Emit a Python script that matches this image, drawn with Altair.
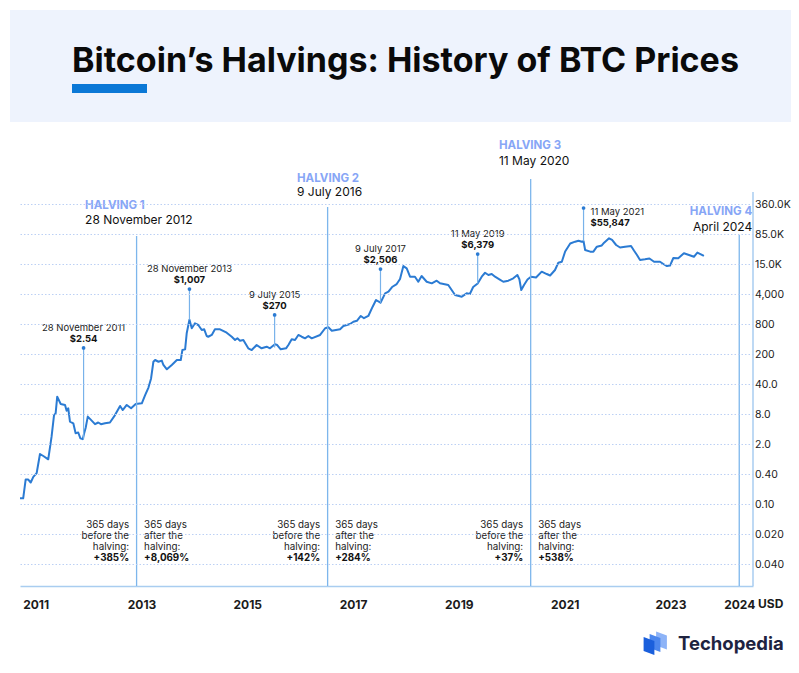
import altair as alt
import pandas as pd

# ---------------- data ----------------
dates = [
    "2010-09-15", "2010-10-07", "2010-10-24", "2010-11-11", "2010-11-28", "2010-12-16",
    "2011-01-08", "2011-01-31", "2011-02-23", "2011-03-29", "2011-04-21", "2011-05-08",
    "2011-05-19", "2011-05-30", "2011-06-23", "2011-07-23", "2011-08-03", "2011-08-14",
    "2011-08-26", "2011-09-18", "2011-10-04", "2011-10-22", "2011-11-06", "2011-11-22",
    "2011-12-02", "2011-12-13", "2011-12-27", "2012-01-18", "2012-02-15", "2012-03-08",
    "2012-03-27", "2012-04-24", "2012-05-28", "2012-07-02", "2012-08-06", "2012-08-24",
    "2012-09-21", "2012-10-21", "2012-11-22", "2013-01-03", "2013-01-26", "2013-02-18",
    "2013-03-08", "2013-03-24", "2013-04-05", "2013-04-28", "2013-05-21", "2013-06-01",
    "2013-06-25", "2013-07-29", "2013-09-02", "2013-09-29", "2013-10-10", "2013-10-29",
    "2013-11-09", "2013-11-28", "2013-12-14", "2014-01-05", "2014-01-28", "2014-02-21",
    "2014-03-10", "2014-03-27", "2014-04-07", "2014-05-01", "2014-05-23", "2014-06-27",
    "2014-08-12", "2014-09-16", "2014-10-09", "2014-10-25", "2014-11-12", "2014-12-05",
    "2015-01-08", "2015-02-01", "2015-03-07", "2015-04-10", "2015-05-15", "2015-06-07",
    "2015-07-11", "2015-07-27", "2015-08-20", "2015-09-26", "2015-10-12", "2015-11-04",
    "2015-11-27", "2015-12-20", "2016-01-12", "2016-02-04", "2016-02-27", "2016-03-21",
    "2016-05-18", "2016-06-22", "2016-07-14", "2016-08-07", "2016-10-03", "2016-10-26",
    "2016-12-11", "2017-01-03", "2017-01-27", "2017-02-23", "2017-03-17", "2017-04-16",
    "2017-05-16", "2017-06-08", "2017-07-09", "2017-08-10", "2017-09-02", "2017-09-27",
    "2017-10-29", "2017-11-21", "2017-12-14", "2018-01-06", "2018-01-29", "2018-03-04",
    "2018-03-27", "2018-04-19", "2018-05-24", "2018-06-28", "2018-08-01", "2018-08-24",
    "2018-10-20", "2018-12-06", "2019-01-21", "2019-02-24", "2019-03-18", "2019-04-10",
    "2019-05-11", "2019-06-08", "2019-07-01", "2019-07-24", "2019-08-16", "2019-09-08",
    "2019-10-08", "2019-11-04", "2019-12-09", "2020-01-12", "2020-02-09", "2020-02-23",
    "2020-03-07", "2020-03-26", "2020-04-19", "2020-05-13", "2020-06-17", "2020-07-26",
    "2020-08-30", "2020-09-22", "2020-10-26", "2020-11-18", "2020-12-12", "2021-01-04",
    "2021-02-08", "2021-03-14", "2021-04-06", "2021-04-29", "2021-05-11", "2021-05-22",
    "2021-06-26", "2021-07-18", "2021-08-11", "2021-09-14", "2021-09-30", "2021-11-03",
    "2021-11-24", "2021-12-22", "2022-01-18", "2022-02-22", "2022-04-04", "2022-04-24",
    "2022-05-15", "2022-06-05", "2022-07-09", "2022-08-09", "2022-09-10", "2022-10-21",
    "2022-11-13", "2022-12-08", "2022-12-29", "2023-01-21", "2023-02-24", "2023-04-04",
    "2023-05-09", "2023-06-12", "2023-07-06", "2023-07-27", "2023-08-20",
]
prices = [
    0.13, 0.13, 0.31, 0.31, 0.27, 0.35,
    0.42, 1.17, 1.05, 0.88, 2.8, 7.6,
    8.3, 20.3, 13.7, 13.0, 9.5, 10.9,
    5.6, 5.2, 3.3, 3.4, 2.6, 2.5,
    3.3, 4.3, 7.1, 6.1, 5.0, 5.4,
    5.0, 5.2, 5.4, 7.6, 12.3, 9.9,
    13.0, 10.9, 13.7, 14.2, 22, 33,
    54, 132, 145, 132, 140, 111,
    88, 111, 145, 145, 240, 248,
    520, 1007, 657, 830, 764, 606,
    626, 459, 444, 482, 626, 626,
    535, 444, 382, 413, 370, 382,
    260, 240, 303, 260, 280, 260,
    313, 303, 248, 260, 303, 394,
    382, 482, 444, 413, 459, 413,
    482, 657, 686, 588, 626, 728,
    800, 904, 950, 1230, 1090, 1230,
    2025, 2900, 2506, 4120, 4430, 5440,
    6200, 7740, 13700, 12400, 8560, 8560,
    6870, 8840, 6870, 6400, 7200, 6400,
    5950, 3790, 3460, 4120, 4000, 5440,
    6379, 8560, 10200, 9240, 9640, 8560,
    7650, 6870, 7200, 7980, 9240, 7650,
    4770, 5950, 7570, 8560, 8280, 10700,
    9640, 9050, 11500, 16200, 17100, 30900,
    49000, 54500, 57700, 54500, 55847, 33700,
    30600, 30600, 40800, 43800, 51400, 66300,
    60100, 45000, 39000, 40800, 42500, 32700,
    25200, 18900, 19700, 20600, 17100, 17100,
    15000, 13700, 14000, 21200, 21000, 27900,
    25200, 22800, 29100, 26700, 23900,
]

tick_values = [360000, 85000, 15000, 4000, 800, 200, 40, 8, 2, 0.4, 0.1, 0.02, 0.004]
tick_labels = ["360.0K", "85.0K", "15.0K", "4,000", "800", "200", "40.0", "8.0",
               "2.0", "0.40", "0.10", "0.020", "0.040"]

year_tick_dates = [(2011, 1, 1), (2013, 1, 1), (2015, 1, 1), (2017, 1, 1),
                   (2019, 1, 1), (2021, 1, 1), (2023, 1, 1), (2024, 4, 20)]

halving_names = ["HALVING 1", "HALVING 2", "HALVING 3", "HALVING 4"]
halving_dates = ["2012-11-28", "2016-07-09", "2020-05-11", "2024-04-20"]
halving_date_labels = ["28 November 2012", "9 July 2016", "11 May 2020", "April 2024"]

before_pct = ["+385%", "+142%", "+37%"]
after_pct = ["+8,069%", "+284%", "+538%"]

ann_dates = ["2011-11-28", "2013-11-28", "2015-07-09", "2017-07-09", "2019-05-11", "2021-05-11"]
ann_prices = [2.54, 1007, 270, 2506, 6379, 55847]
ann_top = [264, 4980, 1297, 12000, 26700, 297000]
ann_date_labels = ["28 November 2011", "28 November 2013", "9 July 2015",
                   "9 July 2017", "11 May 2019", "11 May 2021"]
ann_value_labels = ["$2.54", "$1,007", "$270", "$2,506", "$6,379", "$55,847"]

# ---------------- layout constants ----------------
W, H = 733, 394
FONT = "Inter"
BLUE = "#2b7bd3"
HALV_LINE = "#7db6ec"
HALV_TXT = "#87a6f6"

price_df = pd.DataFrame({"date": dates, "price": prices})
one = pd.DataFrame({"k": [0]})

y_dom = sorted(tick_values)
y_rng = [12 + 30 * (len(tick_values) - 1 - i) for i in range(len(tick_values))]
y_scale = alt.Scale(type="log", domain=y_dom, range=y_rng, nice=False)
x_scale = alt.Scale(domain=[alt.DateTime(year=2010, month=9, date=15, utc=True),
                            alt.DateTime(year=2024, month=7, date=24, utc=True)])

label_expr = " : ".join(f"datum.value == {v} ? '{l}'" for v, l in zip(tick_values, tick_labels)) + " : ''"

x_axis = alt.Axis(
    values=[alt.DateTime(year=y, month=m, date=d, utc=True) for y, m, d in year_tick_dates],
    format="%Y", title=None, grid=False, ticks=False, domain=True,
    domainColor="#a9cdf0", domainWidth=1.5, labelFont=FONT, labelFontSize=12,
    labelFontWeight="bold", labelColor="#1b1b1b", labelPadding=13, labelFlush=False,
    labelOverlap=False,
)
y_axis = alt.Axis(
    orient="right", values=tick_values, labelExpr=label_expr, title=None,
    grid=True, gridDash=[1.5, 2], gridColor="#bcd0f4", gridWidth=1,
    domain=False, ticks=False, labelPadding=1.5, labelFont=FONT, labelFontSize=10.5,
    labelColor="#222222", labelOverlap=False, labelBound=False, zindex=1,
    labelAlign="left", labelBaseline="middle",
)

X = alt.X("date:T", scale=x_scale, axis=x_axis)
Y = alt.Y("price:Q", scale=y_scale, axis=y_axis)

layers = []

# header band, title, underline
layers.append(alt.Chart(one).mark_rect(color="#eef3fd").encode(
    x=alt.value(-10), x2=alt.value(780), y=alt.value(-182), y2=alt.value(-70)))
layers.append(alt.Chart(one).mark_rect(color="#0b78d6").encode(
    x=alt.value(52), x2=alt.value(127), y=alt.value(-108), y2=alt.value(-99)))
layers.append(alt.Chart(one).mark_text(
    text="Bitcoin\u2019s Halvings: History of BTC Prices", font=FONT, fontSize=34,
    fontWeight="bold", color="#0a0a0a", align="left", baseline="alphabetic").encode(
    x=alt.value(52), y=alt.value(-120)))

# area + line
gradient = alt.Gradient(gradient="linear",
                        stops=[alt.GradientStop(color="#d8e2fc", offset=0),
                               alt.GradientStop(color="#fbfcff", offset=1)],
                        x1=1, x2=1, y1=0, y2=1)
layers.append(alt.Chart(price_df).mark_area(color=gradient).encode(x=X, y=Y, y2=alt.value(H)))
layers.append(alt.Chart(price_df).mark_line(color=BLUE, strokeWidth=2, strokeJoin="round").encode(
    x="date:T", y="price:Q"))

# halving lines and labels
halv_df = pd.DataFrame({"date": halving_dates, "name": halving_names, "label": halving_date_labels})
line_tops = [44, 15, -13, 43]
name_y = [14, -13, -46, 20]
date_y = [28, 0, -31, 35]
text_dx = [-51.5, -30.6, -31.7, 13]
aligns = ["left", "left", "left", "right"]
for i in range(len(halving_dates)):
    d = halv_df.iloc[[i]]
    layers.append(alt.Chart(d).mark_rule(color=HALV_LINE, strokeWidth=1.3).encode(
        x="date:T", y=alt.value(line_tops[i]), y2=alt.value(H)))
    layers.append(alt.Chart(d).mark_text(font=FONT, fontSize=11.5, fontWeight="bold",
                                         color=HALV_TXT, align=aligns[i], dx=text_dx[i],
                                         baseline="middle").encode(
        x="date:T", y=alt.value(name_y[i]), text="name:N"))
    layers.append(alt.Chart(d).mark_text(font=FONT, fontSize=12, color="#111111",
                                         align=aligns[i], dx=text_dx[i],
                                         baseline="middle").encode(
        x="date:T", y=alt.value(date_y[i]), text="label:N"))

# 365-day change texts
pct_df = pd.DataFrame({"date": halving_dates[:3], "before": before_pct, "after": after_pct,
                       "b_txt": ["365 days\nbefore the\nhalving:"] * 3,
                       "a_txt": ["365 days\nafter the\nhalving:"] * 3})
base_t = alt.Chart(pct_df)
layers.append(base_t.mark_text(font=FONT, fontSize=9.8, color="#222222", align="right", dx=-7.5,
                               baseline="top", lineBreak="\n", lineHeight=11).encode(
    x="date:T", y=alt.value(328), text="b_txt:N"))
layers.append(base_t.mark_text(font=FONT, fontSize=9.8, fontWeight="bold", color="#111111",
                               align="right", dx=-7.5, baseline="top").encode(
    x="date:T", y=alt.value(361), text="before:N"))
layers.append(base_t.mark_text(font=FONT, fontSize=9.8, color="#222222", align="left", dx=7.5,
                               baseline="top", lineBreak="\n", lineHeight=11).encode(
    x="date:T", y=alt.value(328), text="a_txt:N"))
layers.append(base_t.mark_text(font=FONT, fontSize=9.8, fontWeight="bold", color="#111111",
                               align="left", dx=7.5, baseline="top").encode(
    x="date:T", y=alt.value(361), text="after:N"))

# annotations
ann_df = pd.DataFrame({"date": ann_dates, "price": ann_prices, "top": ann_top,
                       "dlabel": ann_date_labels, "vlabel": ann_value_labels})
a = alt.Chart(ann_df)
layers.append(a.mark_rule(color="#78b2ea", strokeWidth=1.2).encode(
    x="date:T", y="price:Q", y2="top:Q"))
layers.append(a.mark_circle(size=14, color=BLUE, opacity=1).encode(x="date:T", y="top:Q"))
above = alt.Chart(ann_df.iloc[:5])
layers.append(above.mark_text(font=FONT, fontSize=9.5, color="#222222", baseline="middle",
                              dy=-20).encode(x="date:T", y="top:Q", text="dlabel:N"))
layers.append(above.mark_text(font=FONT, fontSize=9.5, fontWeight="bold", color="#111111",
                              baseline="middle", dy=-9).encode(x="date:T", y="top:Q", text="vlabel:N"))
right = alt.Chart(ann_df.iloc[5:])
layers.append(right.mark_text(font=FONT, fontSize=9.5, color="#222222", baseline="middle",
                              align="left", dx=7, dy=4).encode(x="date:T", y="top:Q", text="dlabel:N"))
layers.append(right.mark_text(font=FONT, fontSize=9.5, fontWeight="bold", color="#111111",
                              baseline="middle", align="left", dx=7, dy=15).encode(
    x="date:T", y="top:Q", text="vlabel:N"))

# right axis line and USD unit
layers.append(alt.Chart(one).mark_rule(color="#a9cdf0", strokeWidth=1.5).encode(
    x=alt.value(W), y=alt.value(0), y2=alt.value(H)))
layers.append(alt.Chart(one).mark_text(text="USD", font=FONT, fontSize=12, fontWeight="bold",
                                       color="#1b1b1b", align="left", baseline="top").encode(
    x=alt.value(738), y=alt.value(H + 13)))

# logo
panel = "M-0.6,-1 L0.6,-0.55 L0.6,1 L-0.6,0.55 Z"
for (px, py, col) in [(641.5, 448.5, "#8db3f7"), (635, 451, "#4c87ee"), (629, 454, "#1a5fdc")]:
    layers.append(alt.Chart(one).mark_point(shape=panel, filled=True, size=324, color=col,
                                            opacity=1, strokeWidth=0).encode(
        x=alt.value(px), y=alt.value(py)))
layers.append(alt.Chart(one).mark_text(text="Techopedia", font=FONT, fontSize=18.5,
                                       fontWeight="bold", color="#1e2340", align="left",
                                       baseline="middle").encode(
    x=alt.value(658), y=alt.value(452)))

chart = alt.layer(*layers).properties(
    width=W, height=H,
    padding={"left": 12, "top": 184, "right": 38, "bottom": 75},
    autosize=alt.AutoSizeParams(type="none"),
    background="white",
).configure_view(stroke=None)

chart.save("out.html", embed_options={"renderer": "svg", "actions": False})
